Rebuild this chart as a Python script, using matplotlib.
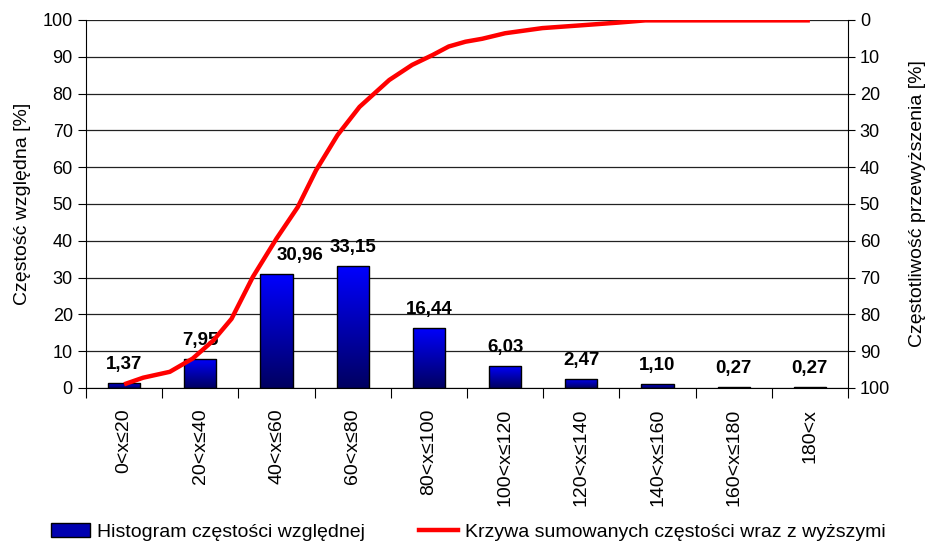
import matplotlib
matplotlib.use("Agg")
import matplotlib.pyplot as plt
from matplotlib.colors import LinearSegmentedColormap
from matplotlib.patches import Patch, Rectangle
from matplotlib.lines import Line2D
import numpy as np

plt.rcParams['font.family'] = ['Liberation Sans', 'DejaVu Sans']

categories = ['0<x≤20', '20<x≤40', '40<x≤60', '60<x≤80', '80<x≤100',
              '100<x≤120', '120<x≤140', '140<x≤160', '160<x≤180', '180<x']
rel_freq = [1.37, 7.95, 30.96, 33.15, 16.44, 6.03, 2.47, 1.10, 0.27, 0.27]
labels = ['1,37', '7,95', '30,96', '33,15', '16,44', '6,03', '2,47', '1,10', '0,27', '0,27']

# red curve (x in category units, exceedance %)
curve_x = [0, 0.25, 0.6, 0.9, 1.17, 1.41, 1.69, 2.0, 2.28, 2.52, 2.8, 3.09,
           3.48, 3.78, 4.05, 4.26, 4.48, 4.7, 5.0, 5.49, 5.96, 6.49, 6.84, 9.0]
curve_exceed = [99.0, 97.2, 95.6, 92.0, 87.1, 81.2, 69.8, 59.4, 50.8, 40.8, 31.3, 23.6,
                16.3, 12.2, 9.5, 7.2, 5.9, 5.1, 3.6, 2.2, 1.5, 0.7, 0.1, 0.1]

fig = plt.figure(figsize=(9.27, 5.42), dpi=100)
ax = fig.add_axes([86/927, 1-388/542, (848-86)/927, (388-20)/542])

x = np.arange(len(categories))
bw = 0.42
cmap = LinearSegmentedColormap.from_list('bl', ['#000060', '#0000FF'])
grad = np.linspace(0, 1, 256).reshape(-1, 1)
bars = ax.bar(x, rel_freq, width=bw, facecolor='none', edgecolor='black', lw=1.0, zorder=3)
for b in bars:
    x0, w, h = b.get_x(), b.get_width(), b.get_height()
    im = ax.imshow(grad, cmap=cmap, origin='lower', aspect='auto',
                   extent=[x0, x0 + w, 0, h], zorder=2)
    im.set_clip_path(Rectangle((x0, 0), w, h, transform=ax.transData))

for i, (v, t) in enumerate(zip(rel_freq, labels)):
    dx = 0.31 if i == 2 else 0
    ax.annotate(t, (i + dx, v), xytext=(0, 10), textcoords='offset points',
                ha='center', va='baseline', fontsize=13.5, fontweight='bold')

ax.set_xlim(-0.5, 9.5)
ax.set_ylim(0, 100)
ax.set_yticks(range(0, 101, 10))
ax.yaxis.grid(True, color='#222222', lw=0.9)
ax.set_axisbelow(True)
ax.set_xticks(np.arange(-0.5, 10, 1))
ax.set_xticklabels([])
ax.set_xticks(x, minor=True)
ax.set_xticklabels(categories, minor=True, rotation=90, va='top', fontsize=14)
ax.tick_params(axis='x', which='minor', length=0, pad=15)
ax.tick_params(axis='x', which='major', length=7, direction='out', color='black')
ax.tick_params(axis='y', length=6, labelsize=13, color='black')
ax.set_ylabel('Częstość względna [%]', fontsize=14, labelpad=8)
for s in ['top', 'right']:
    ax.spines[s].set_visible(False)

ax2 = ax.twinx()
ax2.plot(curve_x, curve_exceed, color='red', lw=3.2, solid_capstyle='butt')
ax2.set_ylim(100, 0)
ax2.set_yticks(range(0, 101, 10))
ax2.tick_params(axis='y', length=5, labelsize=13, color='black')
ax2.set_ylabel('Częstotliwość przewyższenia [%]', fontsize=14, labelpad=14)
for s in ['top', 'left', 'bottom']:
    ax2.spines[s].set_visible(False)

handles = [Patch(facecolor='#0000B0', edgecolor='black', lw=1.0),
           Line2D([0], [0], color='red', lw=3.2)]
fig.legend(handles, ['Histogram częstości względnej', 'Krzywa sumowanych częstości wraz z wyższymi'],
           loc='center', bbox_to_anchor=(0.505, 1-532/542), ncol=2, frameon=False,
           handlelength=2.0, handletextpad=0.35, columnspacing=2.8,
           prop={'family': ['Liberation Sans', 'DejaVu Sans'], 'size': 14})

fig.savefig('out.png', dpi=100)
